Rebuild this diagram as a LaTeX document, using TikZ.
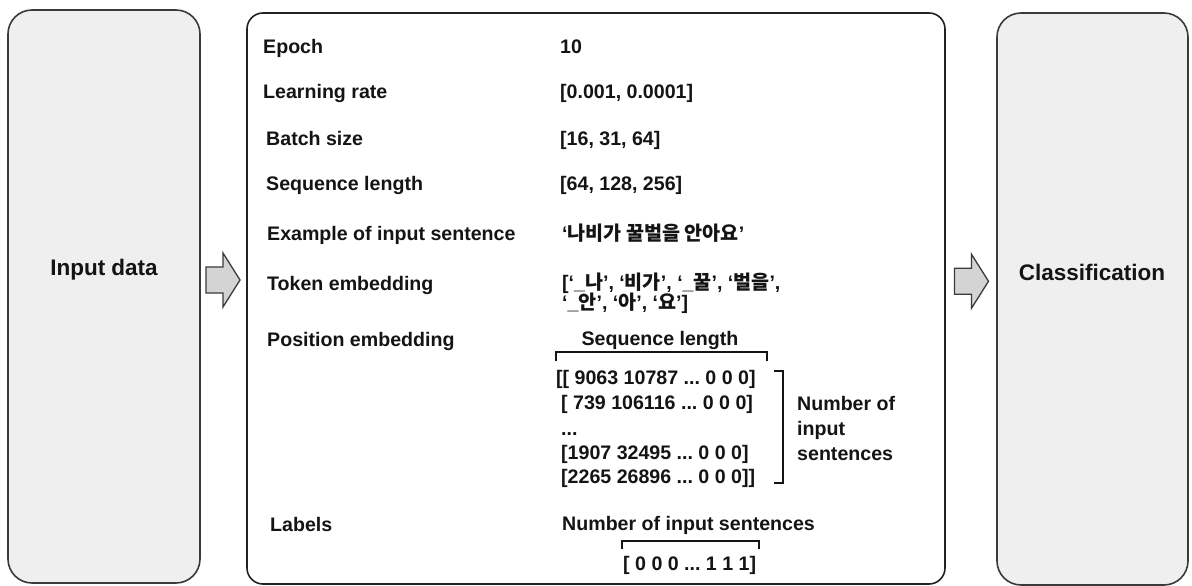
\documentclass[tikz,border=0pt]{standalone}
\usepackage{fontspec}
\setmainfont{Liberation Sans}
\newfontfamily\krfont{Noto Sans CJK KR}
\usetikzlibrary{calc}
\definecolor{boxfill}{HTML}{EFEFEF}
\definecolor{boxline}{HTML}{3A3A3A}
\definecolor{midline}{HTML}{222222}
\definecolor{arrfill}{HTML}{D4D4D4}
\definecolor{ink}{HTML}{141414}
\newcommand{\K}[1]{{\krfont\bfseries #1}}
\frenchspacing
\begin{document}
\begin{tikzpicture}[x=1pt,y=-1pt,
  font=\fontsize{19.6}{24}\selectfont\bfseries, text=ink,
  sidebox/.style={draw=boxline, fill=boxfill, line width=1.6pt, rounded corners=24pt, inner sep=0pt},
  midbox/.style={draw=midline, fill=white, line width=1.6pt, rounded corners=16pt, inner sep=0pt},
  barrow/.style={draw=boxline, fill=arrfill, line width=1.3pt, line join=miter},
  lab/.style={anchor=base west, inner sep=0pt},
  sidelab/.style={font=\fontsize{22.5}{27}\selectfont\bfseries},
  brk/.style={draw=ink, line width=2.4pt},
]
\useasboundingbox (0,0) rectangle (1192,586);

% boxes
\node[sidebox, minimum width=192pt, minimum height=573pt] (inbox) at (104,296.5) {};
\node[midbox, minimum width=698pt, minimum height=571pt] (mid) at (596,298.5) {};
\node[sidebox, minimum width=191pt, minimum height=572pt] (outbox) at (1092.5,299) {};

\node[sidelab] (intext) at (104,270) {Input data};
\node[sidelab] (outtext) at (1092,272) {Classification};

% block arrows
\path ($(inbox.east)!0.5!(mid.west)$) ++(0,-17.5) coordinate (a1);
\path ($(mid.east)!0.5!(outbox.west)$) ++(1,-17.5) coordinate (a2);
\draw[barrow] (a1) ++(-17.5,-13) -- ++(17,0) -- ++(0,-14) -- ++(17,27) -- ++(-17,27) -- ++(0,-14) -- ++(-17,0) -- cycle;
\draw[barrow] (a2) ++(-17.5,-13) -- ++(17,0) -- ++(0,-14) -- ++(17,27) -- ++(-17,27) -- ++(0,-14) -- ++(-17,0) -- cycle;

% left column
\node[lab] (l1) at (263,54) {Epoch};
\node[lab] (l2) at (263,99) {Learning rate};
\node[lab] (l3) at (266,145) {Batch size};
\node[lab] (l4) at (266,190) {Sequence length};
\node[lab] (l5) at (267,240) {Example of input sentence};
\node[lab] (l6) at (267,290) {Token embedding};
\node[lab] (l7) at (267,346) {Position embedding};
\node[lab] (l8) at (270,531) {Labels};

% right column
\node[lab] (v1) at (560,54) {10};
\node[lab] (v2) at (560,99) {[0.001, 0.0001]};
\node[lab] (v3) at (560,145) {[16, 31, 64]};
\node[lab] (v4) at (560,190) {[64, 128, 256]};
\node[lab] (v5) at (562,240) {‘\K{나비가 꿀벌을 안아요}’};
\node[lab] (v6a) at (562,289) {[‘\_\K{나}’, ‘\K{비가}’, ‘\_\K{꿀}’, ‘\K{벌을}’,};
\node[lab] (v6b) at (562,309) {‘\_\K{안}’, ‘\K{아}’, ‘\K{요}’]};

% position embedding
\node[anchor=base, inner sep=0pt] (seqhead) at (660,345) {Sequence length};
\draw[brk] (556,361) -- (556,352) -- (767,352) -- (767,361);
\node[lab] (m1) at (556,384) {[[ 9063 10787 ... 0 0 0]};
\node[lab] (m2) at (561,409) {[ 739 106116 ... 0 0 0]};
\node[lab] (m3) at (561,435) {...};
\node[lab] (m4) at (561,459) {[1907 32495 ... 0 0 0]};
\node[lab] (m5) at (561,483) {[2265 26896 ... 0 0 0]]};
\draw[brk] (774,371) -- (783,371) -- (783,483) -- (774,483);
\node[lab] (n1) at (797,410) {Number of};
\node[lab] (n2) at (797,435) {input};
\node[lab] (n3) at (797,460) {sentences};

% labels
\node[lab] (labhead) at (562,530) {Number of input sentences};
\draw[brk] (622,549) -- (622,541) -- (759,541) -- (759,549);
\node[lab] (labval) at (623,570) {[ 0 0 0 ... 1 1 1]};
\end{tikzpicture}
\end{document}
